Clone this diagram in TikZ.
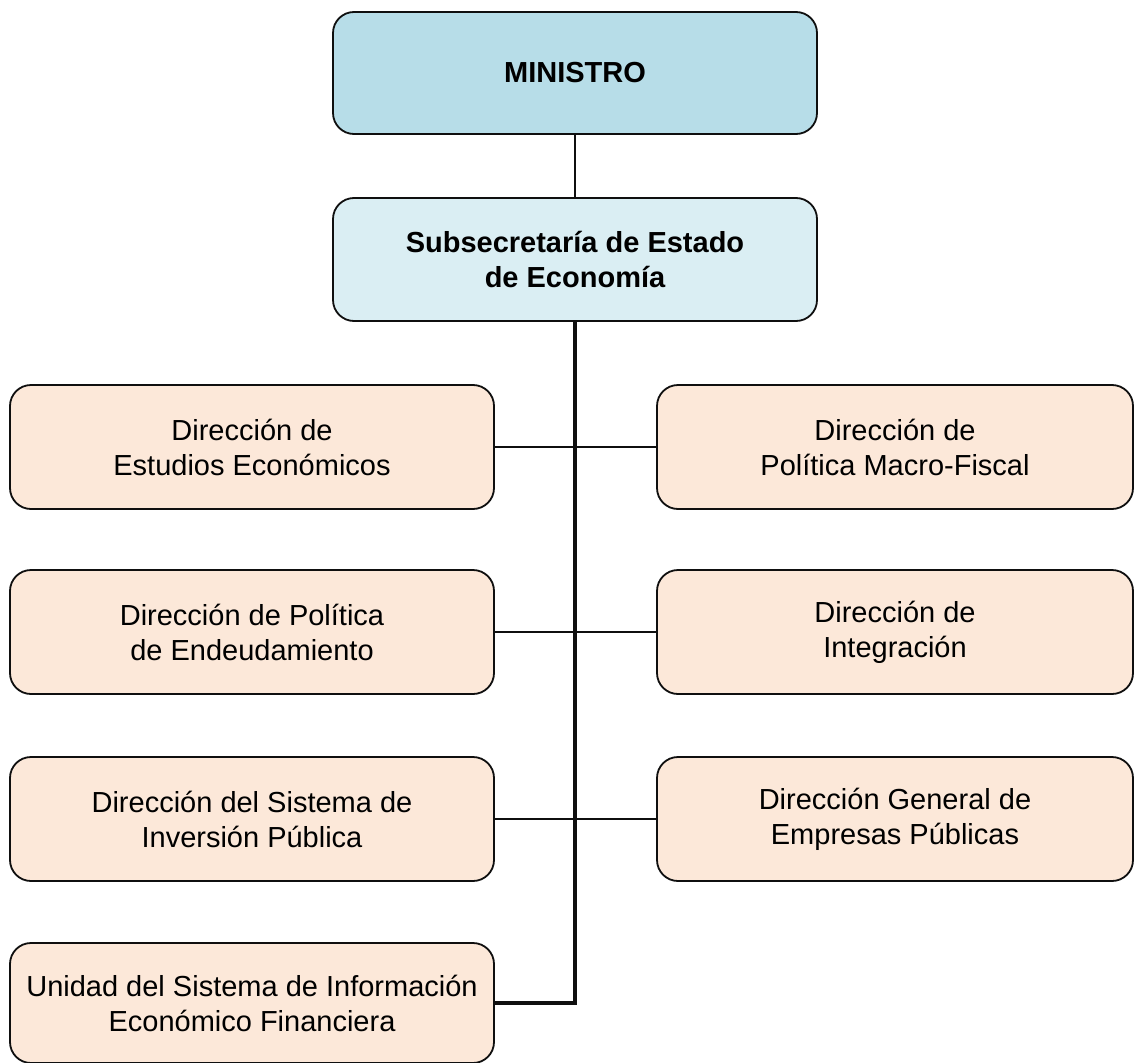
\documentclass[tikz,border=0pt]{standalone}
\usepackage{fontspec}
\setmainfont{Liberation Sans}
\usepackage{tikz}
\usetikzlibrary{positioning}
\usepackage{xcolor}
\definecolor{MinistroBlue}{RGB}{183, 221, 232}
\definecolor{SubBlue}{RGB}{218, 238, 243}
\definecolor{DirPeach}{RGB}{252, 232, 217}
\definecolor{EdgeGrey}{RGB}{15, 15, 15}

\begin{document}
\begin{tikzpicture}[x=1pt,y=-1pt,
    every node/.style={font=\fontsize{29}{35}\selectfont,align=center,text=black},
    orgbox/.style={draw=EdgeGrey,line width=1.8pt,rounded corners=21pt,inner sep=0pt,minimum height=124pt},
    topbox/.style={orgbox,fill=MinistroBlue,minimum width=484pt,minimum height=122pt,font=\fontsize{29}{35}\selectfont\bfseries},
    subbox/.style={orgbox,fill=SubBlue,minimum width=484pt,minimum height=123pt,font=\fontsize{29}{35}\selectfont\bfseries},
    leftbox/.style={orgbox,fill=DirPeach,minimum width=484pt},
    rightbox/.style={orgbox,fill=DirPeach,minimum width=476pt},
    branch/.style={draw=EdgeGrey,line width=2pt},
    trunk/.style={draw=EdgeGrey,line width=4pt}]
    \useasboundingbox (0,0) rectangle (1134,1062);
    \node[topbox] (ministro) at (575, 73) {MINISTRO};
    \node[subbox] (subsec) at (575, 259.5) {Subsecretaría de Estado\\de Economía};
    \node[leftbox] (estudios) at (252, 447) {Dirección de\\Estudios Económicos};
    \node[rightbox] (macro) at (895, 447) {Dirección de\\Política Macro-Fiscal};
    \node[leftbox] (endeuda) at (252, 632) {Dirección de Política\\de Endeudamiento};
    \node[rightbox] (integra) at (895, 632) {Dirección de\\Integración};
    \node[leftbox] (inversion) at (252, 819) {Dirección del Sistema de\\Inversión Pública};
    \node[rightbox] (empresas) at (895, 819) {Dirección General de\\Empresas Públicas};
    \node[leftbox,minimum height=120pt] (unidad) at (252, 1003) {Unidad del Sistema de Información\\Económico Financiera};
    \draw[branch] (ministro) -- (subsec);
    \draw[branch] (estudios) -- (macro);
    \draw[branch] (endeuda) -- (integra);
    \draw[branch] (inversion) -- (empresas);
    \draw[trunk] (subsec.south) |- (unidad.east);
  \end{tikzpicture}
\end{document}
